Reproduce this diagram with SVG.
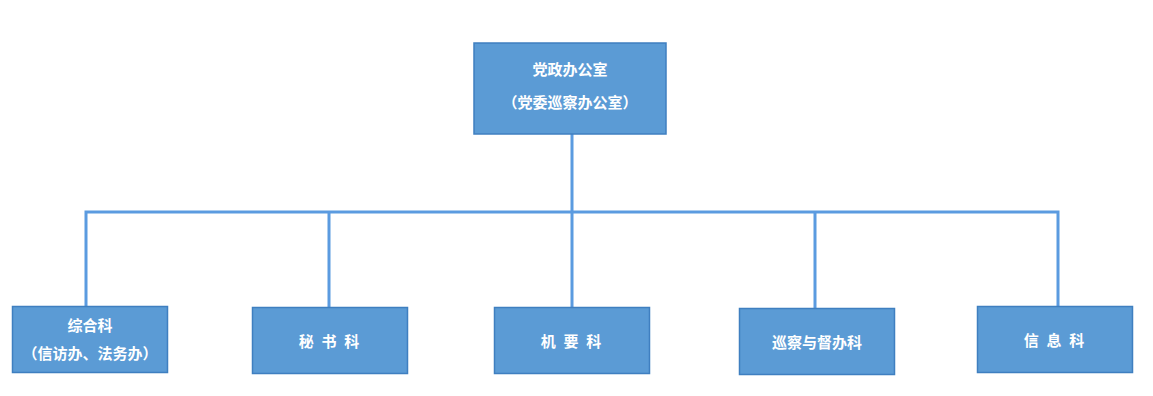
<svg xmlns="http://www.w3.org/2000/svg" width="1153" height="396" viewBox="0 0 1153 396">
<style>
.box{fill:#5b9bd5;stroke:#3f7fc0;stroke-width:1.5}
.t{fill:#ffffff;font-family:"Liberation Serif","Noto Sans CJK SC",serif;font-size:15px;font-weight:bold;text-anchor:middle;dominant-baseline:central}
.c{stroke:#5b9be0;stroke-width:3;fill:none}
</style>
<rect width="1153" height="396" fill="#ffffff"/>
<g id="connectors">
<path class="c" d="M572 134V212M86 306V212H1058V306M329 212V307M572 212V307M815 212V308"/>
</g>
<g id="n0"><rect class="box" x="474" y="43" width="192" height="91"/><text class="t" x="570" y="70">党政办公室</text><text class="t" x="570" y="103">（党委巡察办公室）</text></g>
<g id="n1"><rect class="box" x="12.5" y="306.5" width="155" height="66"/><text class="t" x="90" y="326">综合科</text><text class="t" x="90" y="354">（信访办、法务办）</text></g>
<g id="n2"><rect class="box" x="252.5" y="307.5" width="155" height="66"/><text class="t" x="330" y="342" letter-spacing="2">秘 书 科</text></g>
<g id="n3"><rect class="box" x="494.5" y="307.5" width="155" height="66"/><text class="t" x="572" y="342" letter-spacing="2">机 要 科</text></g>
<g id="n4"><rect class="box" x="739.5" y="308.5" width="155" height="66"/><text class="t" x="817" y="343">巡察与督办科</text></g>
<g id="n5"><rect class="box" x="977.5" y="306.5" width="155" height="66"/><text class="t" x="1055" y="341" letter-spacing="2">信 息 科</text></g>
</svg>
